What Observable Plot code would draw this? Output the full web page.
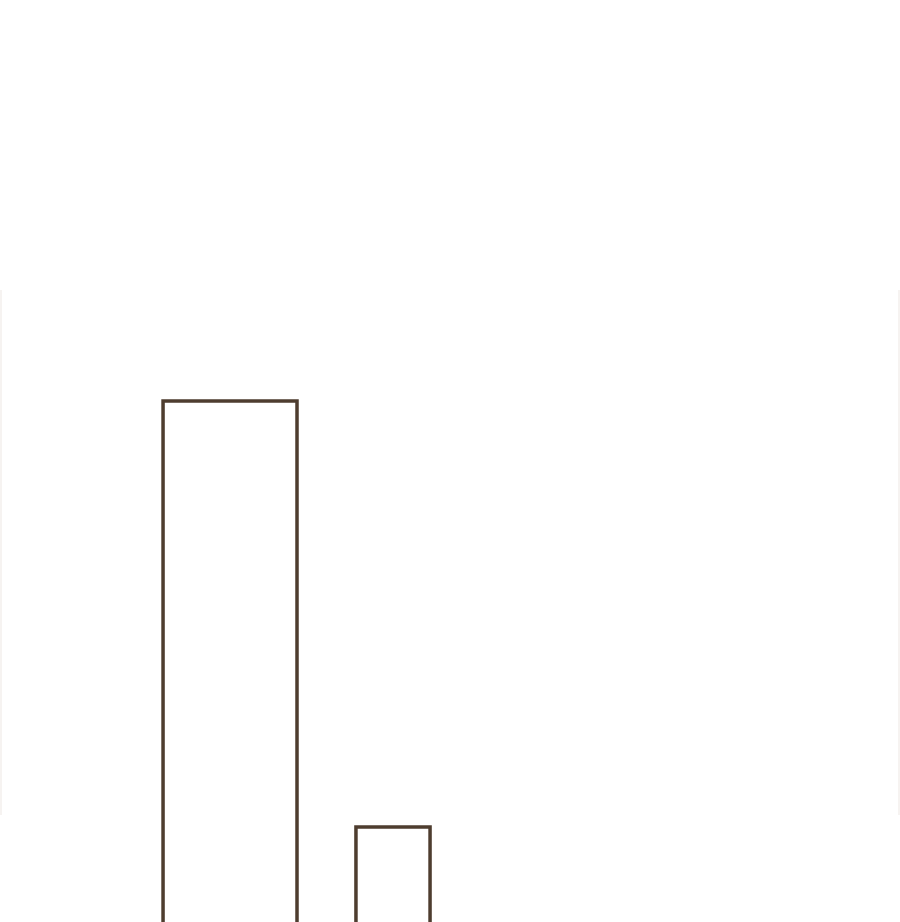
<!DOCTYPE html>
<html>
<head>
<meta charset="utf-8">
<script src="https://cdn.jsdelivr.net/npm/d3@7"></script>
<script src="https://cdn.jsdelivr.net/npm/@observablehq/plot@0.6"></script>
<style>
  html, body { margin: 0; padding: 0; background: #fff; overflow: hidden; }
  #wrap { position: relative; width: 900px; }
  #frame { position: absolute; left: 0; top: 290px; width: 900px; height: 525px;
           border-left: 2px solid #f6f3f1; border-right: 2px solid #f6f3f1; box-sizing: border-box; pointer-events: none; }
</style>
</head>
<body>
<div id="wrap"><div id="frame"></div><div id="chart"></div></div>
<script>
const categories = ["A", "B"];
const starts = [10.87, 23.73];
const ends = [19.8, 28.67];
const values = [100, 29];

const data = categories.map((c, i) => ({category: c, x1: starts[i], x2: ends[i], value: values[i]}));

const chart = Plot.plot({
  width: 900,
  height: 1040,
  marginTop: 401,
  marginBottom: 39,
  marginLeft: 0,
  marginRight: 0,
  x: {domain: [0, 60], axis: null},
  y: {domain: [0, 100], axis: null},
  marks: [
    Plot.rectY(data, {
      x1: "x1", x2: "x2", y: "value",
      fill: "white",
      stroke: "#4e3d2f",
      strokeWidth: 3.5,
      style: "filter: drop-shadow(0 0 2.5px rgba(170,130,100,0.45))"
    })
  ]
});
chart.style.display = "block";
document.getElementById("chart").append(chart);
</script>
</body>
</html>
